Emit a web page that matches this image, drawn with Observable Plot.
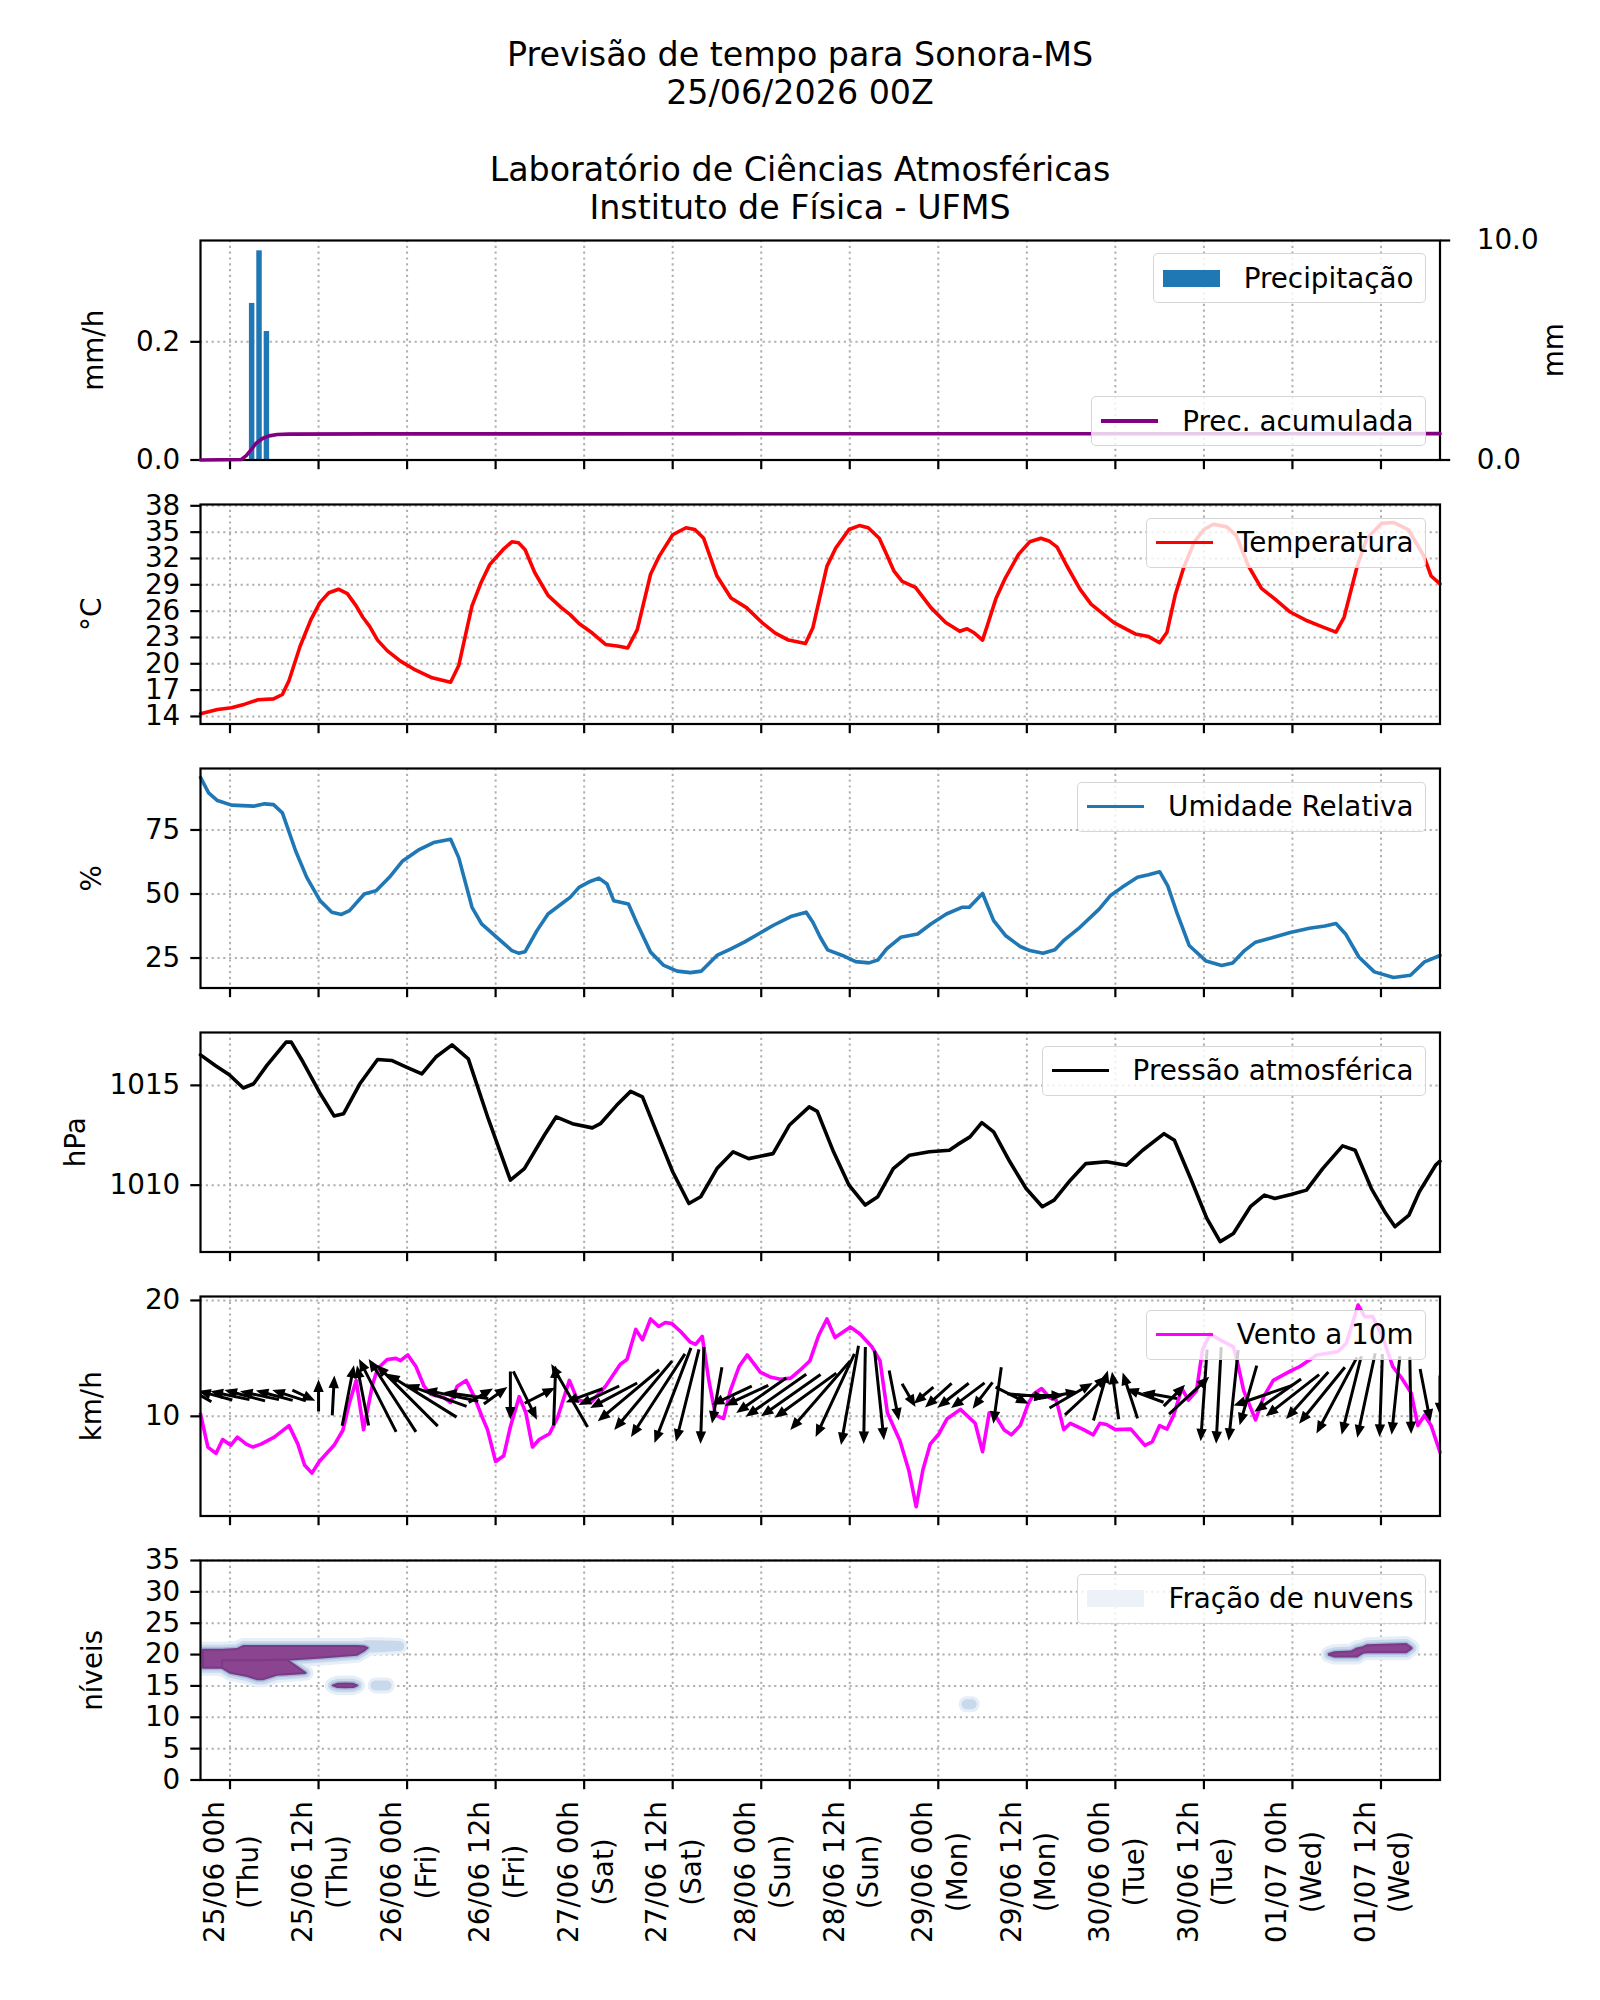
<!DOCTYPE html>
<html>
<head>
<meta charset="utf-8">
<script src="https://cdn.jsdelivr.net/npm/d3@7"></script>
<script src="https://cdn.jsdelivr.net/npm/@observablehq/plot@0.6"></script>
<style>
  body { margin: 0; background: #fff; }
  #fig { position: relative; width: 1600px; height: 2000px; background: #fff; overflow: hidden;
         font-family: "DejaVu Sans", sans-serif; color: #000; }
  #titulo { position: absolute; left: 0; top: 36px; width: 1600px; text-align: center;
            font-size: 33.3px; line-height: 38.3px; white-space: pre; }
  .painel { position: absolute; left: 0; max-width: none; }
  .leg { position: absolute; right: 174.5px; height: 50px; box-sizing: border-box;
         border: 1.6px solid rgba(204,204,204,0.8); background: rgba(255,255,255,0.8);
         border-radius: 5px; display: flex; align-items: center; padding: 0 11px 0 9px;
         font-size: 27.8px; white-space: nowrap; }
  .leg .amostra { width: 57px; margin-right: 24px; }
</style>
</head>
<body>
<div id="fig"><div id="titulo"></div></div>
<script>
// Eixo de tempo: horas a partir de 25/06 00h (hora local)
const dominioHoras = [-4, 164];
const horasTicks = [0, 12, 24, 36, 48, 60, 72, 84, 96, 108, 120, 132, 144, 156];
const rotulosTicks = [
  "25/06 00h\n(Thu)", "25/06 12h\n(Thu)", "26/06 00h\n(Fri)", "26/06 12h\n(Fri)",
  "27/06 00h\n(Sat)", "27/06 12h\n(Sat)", "28/06 00h\n(Sun)", "28/06 12h\n(Sun)",
  "29/06 00h\n(Mon)", "29/06 12h\n(Mon)", "30/06 00h\n(Tue)", "30/06 12h\n(Tue)",
  "01/07 00h\n(Wed)", "01/07 12h\n(Wed)"
];

// Precipitação horária [hora, mm/h]
const precipitacao = [[3, 0.265], [4, 0.354], [5, 0.2175]];

// Precipitação acumulada [hora, mm]
const precAcumulada = [
  [-4, 0], [1.5, 0.02], [2.2, 0.2], [2.9, 0.48], [3.5, 0.75], [4.4, 0.98], [5.3, 1.1],
  [6.4, 1.16], [8, 1.18], [20, 1.19], [164, 1.2]
];

// Temperatura [hora, °C]
const temperatura = [
  [-4, 14.3], [-1.7, 14.8], [0.2, 15.0], [2.0, 15.4], [3.8, 15.9], [5.9, 16.0], [7.1, 16.5],
  [8.0, 18.1], [9.5, 22.0], [11.0, 25.1], [12.2, 27.0], [13.4, 28.1], [14.7, 28.5], [15.9, 28.0],
  [17.1, 26.6], [18.0, 25.3], [18.9, 24.3], [20.0, 22.7], [21.3, 21.5], [23.1, 20.3], [24.9, 19.4],
  [27.4, 18.4], [29.9, 17.9], [31.0, 19.8], [31.9, 23.2], [32.8, 26.6], [34.0, 29.2], [35.2, 31.3],
  [37.0, 33.0], [38.2, 33.9], [39.1, 33.8], [40.0, 33.0], [41.3, 30.4], [43.1, 27.8], [44.9, 26.4],
  [46.1, 25.6], [47.3, 24.6], [49.1, 23.5], [50.9, 22.2], [52.7, 22.0], [53.9, 21.8], [55.2, 23.9],
  [57.0, 30.2], [58.2, 32.3], [60.0, 34.7], [61.8, 35.5], [63.0, 35.3], [64.2, 34.3], [66.0, 30.0],
  [67.9, 27.5], [70.0, 26.4], [72.1, 24.7], [73.9, 23.5], [75.7, 22.7], [78.0, 22.3], [79.0, 24.1],
  [80.9, 31.1], [82.1, 33.2], [83.9, 35.3], [85.3, 35.75], [86.5, 35.5], [88.0, 34.3], [89.0, 32.45],
  [90.0, 30.55], [91.1, 29.4], [92.9, 28.7], [95.0, 26.4], [97.0, 24.7], [98.9, 23.7], [99.9, 24.0],
  [100.9, 23.5], [102.0, 22.7], [102.7, 24.5], [103.8, 27.4], [105.1, 29.8], [106.9, 32.5],
  [108.4, 33.9], [109.9, 34.3], [111.0, 34.0], [112.1, 33.3], [113.4, 31.2], [115.2, 28.5],
  [116.7, 26.8], [119.8, 24.7], [122.7, 23.4], [124.5, 23.1], [126.0, 22.4], [127.0, 23.6],
  [128.1, 27.8], [129.2, 30.8], [130.7, 33.9], [132.0, 35.3], [133.3, 35.9], [135.1, 35.6],
  [136.4, 34.6], [138.0, 31.2], [139.8, 28.6], [141.6, 27.4], [143.7, 25.9], [146.0, 24.9],
  [147.8, 24.3], [149.9, 23.6], [151.0, 25.3], [152.8, 31.2], [154.1, 34.3], [156.1, 36.0],
  [157.7, 36.1], [159.7, 35.3], [161.8, 32.3], [162.8, 30.0], [164.0, 29.1]
];

// Umidade relativa [hora, %]
const umidade = [
  [-4, 95.5], [-2.9, 89.5], [-1.7, 86.5], [0.2, 84.7], [3.2, 84.3], [4.7, 85.2], [5.9, 84.9],
  [7.1, 81.7], [8.9, 66.8], [10.4, 56.5], [12.2, 47.4], [13.8, 42.9], [15.1, 42.0], [16.2, 43.5],
  [18.2, 50.0], [19.8, 51.3], [21.6, 56.5], [23.4, 62.9], [25.5, 67.1], [27.6, 70.1], [29.9, 71.4],
  [31.0, 64.2], [32.8, 44.8], [34.1, 38.3], [36.4, 32.5], [38.2, 27.9], [39.1, 26.9], [40.0, 27.5],
  [41.6, 35.7], [43.1, 42.2], [44.9, 46.1], [46.1, 48.7], [47.3, 52.6], [48.8, 54.9], [50.0, 56.2],
  [51.1, 53.9], [52.0, 47.4], [54.0, 46.1], [55.2, 38.3], [57.0, 27.3], [58.8, 22.1], [60.6, 19.9],
  [62.4, 19.3], [63.9, 19.9], [66.0, 26.0], [67.9, 28.6], [69.7, 31.2], [71.5, 34.2], [73.6, 37.7],
  [76.0, 41.2], [78.1, 42.9], [79.0, 39.0], [80.0, 33.1], [81.0, 28.2], [83.0, 26.0], [84.8, 23.6],
  [86.6, 23.1], [87.8, 24.2], [89.0, 28.6], [90.9, 33.1], [93.2, 34.4], [95.0, 38.3], [97.1, 42.2],
  [99.2, 44.8], [100.2, 44.8], [102.0, 50.2], [103.5, 39.6], [105.1, 33.8], [107.1, 29.5],
  [108.4, 27.9], [110.2, 26.9], [111.8, 28.2], [113.1, 32.1], [115.2, 37.0], [117.8, 44.1],
  [119.3, 49.3], [120.9, 52.6], [123.0, 56.5], [124.5, 57.5], [126.0, 58.7], [127.1, 53.2],
  [128.4, 42.2], [130.0, 29.9], [132.3, 23.8], [134.4, 22.1], [135.9, 23.1], [137.5, 27.9],
  [139.0, 31.2], [141.1, 32.8], [143.7, 35.0], [146.3, 36.6], [148.4, 37.5], [149.9, 38.5],
  [151.2, 34.4], [153.0, 25.4], [155.1, 19.6], [157.7, 17.4], [160.0, 18.3], [161.9, 23.5],
  [164.0, 26.0]
];

// Pressão atmosférica [hora, hPa]
const pressao = [
  [-4, 1016.53], [-2.0, 1016.0], [-0.1, 1015.53], [1.8, 1014.87], [3.2, 1015.08], [5.0, 1016.0],
  [7.6, 1017.17], [8.3, 1017.17], [9.9, 1016.17], [12.1, 1014.67], [14.1, 1013.47], [15.4, 1013.58],
  [17.6, 1015.08], [20.0, 1016.3], [21.9, 1016.25], [23.9, 1015.92], [26.0, 1015.58], [27.9, 1016.42],
  [30.1, 1017.03], [32.3, 1016.33], [35.0, 1013.33], [38.0, 1010.25], [39.9, 1010.83], [42.6, 1012.5],
  [44.2, 1013.42], [46.4, 1013.08], [49.1, 1012.87], [50.2, 1013.08], [52.4, 1014.0], [54.3, 1014.7],
  [55.9, 1014.42], [57.8, 1012.67], [60.0, 1010.67], [62.2, 1009.08], [63.8, 1009.42], [66.0, 1010.83],
  [68.2, 1011.67], [70.3, 1011.33], [73.6, 1011.58], [75.8, 1013.0], [78.5, 1013.92], [79.6, 1013.7],
  [81.8, 1011.67], [83.9, 1010.0], [86.1, 1009.0], [87.8, 1009.42], [89.9, 1010.83], [92.1, 1011.5],
  [94.8, 1011.67], [97.5, 1011.75], [98.6, 1012.03], [100.3, 1012.42], [101.9, 1013.13],
  [103.5, 1012.67], [105.7, 1011.17], [107.9, 1009.83], [110.1, 1008.92], [111.7, 1009.25],
  [113.9, 1010.25], [116.0, 1011.08], [118.8, 1011.17], [121.5, 1011.0], [123.7, 1011.75],
  [126.6, 1012.58], [128.0, 1012.25], [130.2, 1010.33], [132.4, 1008.33], [134.2, 1007.17],
  [136.0, 1007.58], [138.3, 1008.92], [140.2, 1009.5], [141.6, 1009.33], [143.8, 1009.53],
  [145.9, 1009.75], [148.1, 1010.83], [150.8, 1011.97], [152.5, 1011.75], [154.7, 1009.83],
  [156.5, 1008.67], [157.9, 1007.92], [159.8, 1008.5], [161.2, 1009.67], [163.4, 1011.0], [164, 1011.2]
];

// Velocidade do vento a 10 m [hora, km/h]
const vento = [
  [-4, 10.2], [-3.0, 7.35], [-1.9, 6.8], [-1.0, 8.0], [0.1, 7.5], [1.0, 8.2], [2.2, 7.6], [3.1, 7.35],
  [4.2, 7.6], [6.0, 8.2], [8.0, 9.2], [9.2, 7.6], [10.1, 5.8], [11.1, 5.1], [12.1, 6.1], [14.1, 7.5],
  [15.3, 8.8], [16.2, 11.2], [17.1, 13.1], [18.1, 8.85], [19.3, 12.7], [20.0, 14.1], [21.3, 14.9],
  [22.5, 15.0], [23.1, 14.8], [24.1, 15.3], [25.2, 14.3], [26.3, 12.6], [27.2, 11.9], [29.0, 11.6],
  [29.9, 11.2], [30.8, 12.6], [32.0, 13.1], [33.1, 11.7], [34.2, 9.9], [34.9, 8.85], [36.0, 6.1],
  [37.1, 6.6], [38.0, 9.1], [39.2, 11.7], [40.1, 10.3], [41.0, 7.35], [41.9, 8.0], [43.3, 8.5],
  [44.4, 9.9], [46.0, 13.1], [47.1, 11.4], [48.9, 11.2], [50.9, 12.6], [52.9, 14.5], [53.8, 14.9],
  [55.0, 17.5], [55.9, 16.6], [57.0, 18.4], [58.1, 17.75], [59.0, 18.1], [59.9, 18.0], [61.1, 17.3],
  [62.4, 16.4], [63.1, 16.2], [64.0, 16.9], [64.9, 13.1], [65.8, 10.1], [66.9, 9.8], [67.8, 12.2],
  [69.0, 14.3], [70.1, 15.3], [71.9, 13.8], [73.2, 13.4], [74.6, 13.2], [76.0, 13.3], [77.3, 14.0],
  [78.6, 14.8], [79.8, 17.0], [80.9, 18.4], [82.0, 16.8], [84.1, 17.7], [85.4, 17.1], [87.0, 16.0],
  [88.1, 14.8], [89.1, 10.3], [90.8, 7.9], [92.0, 5.35], [93.0, 2.2], [93.9, 5.35], [94.9, 7.6],
  [96.1, 8.5], [97.2, 9.8], [99.0, 10.6], [101.0, 9.4], [102.0, 6.95], [102.9, 10.3], [103.9, 9.9],
  [104.9, 8.85], [105.9, 8.4], [107.1, 9.2], [108.2, 11.1], [108.9, 11.9], [110.0, 12.4],
  [111.1, 11.6], [112.0, 11.4], [113.0, 8.85], [113.9, 9.4], [115.7, 8.85], [117.0, 8.4],
  [117.9, 9.4], [118.8, 9.3], [120.0, 8.85], [122.1, 8.9], [124.0, 7.5], [125.0, 7.8], [126.0, 9.2],
  [127.0, 8.9], [127.9, 10.1], [129.0, 12.4], [129.9, 11.4], [131.0, 12.2], [131.8, 15.7],
  [132.8, 17.1], [134.2, 16.6], [136.0, 16.0], [136.5, 14.8], [137.4, 12.2], [139.0, 9.7],
  [140.1, 11.7], [141.4, 13.1], [143.7, 13.9], [145.0, 14.3], [147.3, 15.3], [150.2, 15.6],
  [151.3, 16.3], [152.9, 19.6], [153.8, 18.6], [154.9, 18.6], [156.3, 16.7], [157.6, 14.3],
  [158.8, 13.3], [160.1, 12.0], [161.0, 9.2], [161.9, 10.1], [162.8, 9.2], [164.0, 6.9]
];

// Setas de vento [hora, direção (graus, horário a partir do norte), intensidade km/h]
const setas = [
  [-4, -60, 4.5], [-2, -75, 6.3], [0, -78, 7.1], [2, -75, 7.5], [4, -78, 7.1], [6, -75, 6.8],
  [8, -72, 6.3], [10, 115, 4.5], [12, 0, 5.7], [14, 3, 7.1], [16, 11, 11.0], [18, -11, 10.9],
  [20, -27, 14.6], [22, -33, 15.5], [24, -45, 15.5], [26, -58, 14.6], [28, -70, 11.4], [30, -78, 9.8],
  [32, -82, 8.0], [34, 60, 5.0], [36, 54, 5.2], [38, 180, 8.6], [40, 154, 9.6], [42, 63, 6.1],
  [44, 2, 10.7], [46, -30, 13.0], [48, -110, 7.0], [50, -115, 8.0], [52, -118, 9.5], [54, -130, 14.3],
  [56, -140, 16.1], [58, -147, 17.7], [60, -159, 18.2], [62, -166, 17.0], [64, -178, 17.3],
  [66, -170, 10.2], [68, -115, 7.9], [70, -115, 8.6], [72, -125, 10.9], [74, -125, 13.2],
  [76, -125, 13.0], [78, -126, 13.6], [80, -139, 16.3], [82, -155, 16.4], [84, -170, 18.0],
  [86, -179, 17.3], [88, 174, 16.1], [90, 169, 9.1], [92, 150, 4.8], [94, -130, 4.6], [96, -132, 6.4],
  [98, -128, 7.1], [100, -127, 7.5], [102, -143, 5.9], [104, -172, 10.2], [106, 117, 6.6],
  [108, 95, 7.1], [110, 90, 8.0], [112, 80, 8.0], [114, 60, 8.9], [116, 47, 10.2], [118, 16, 9.3],
  [120, -8, 8.6], [122, -18, 8.6], [124, -70, 7.1], [126, -80, 6.3], [128, 45, 5.4], [130, 47, 9.8],
  [132, -176, 16.4], [134, -177, 17.3], [136, -174, 16.3], [138, -164, 11.1], [140, -109, 11.1],
  [142, -125, 10.2], [144, -128, 12.1], [146, -138, 11.3], [148, -141, 13.0], [150, -152, 15.4],
  [152, -166, 14.5], [154, -168, 15.4], [156, -178, 14.8], [158, -174, 14.1], [160, 179, 13.8],
  [162, 169, 9.6], [164, 180, 7.1]
];
const nivelSetas = 11.8; // linha de referência (km/h) onde as setas são centradas

// Camadas de nuvens [hora, nível da base, nível do topo]
const nuvemSuperior = [
  [-3.6, 17.8, 20.7], [-1.0, 17.8, 20.7], [1.0, 18.2, 20.8], [1.9, 18.3, 21.3], [7.8, 19.1, 21.3],
  [12.0, 19.4, 21.3], [17.3, 19.9, 21.3], [18.3, 20.6, 21.2], [18.7, 21.0, 21.0]
];
const nuvemInferior = [
  [-1.0, 17.8, 19.0], [0.1, 17.0, 19.0], [2.4, 16.5, 19.0], [3.7, 16.0, 19.0], [4.6, 16.0, 19.0],
  [6.4, 16.7, 19.1], [7.8, 16.8, 19.1], [10.3, 17.0, 17.0]
];
const nuvemNivel15 = [[14.0, 15.0, 15.0], [14.6, 14.75, 15.25], [15.7, 14.7, 15.3], [16.8, 14.75, 15.25], [17.3, 15.0, 15.0]];
const nuvemDireita = [
  [149.0, 19.9, 20.0], [149.8, 19.6, 20.3], [152.0, 19.6, 20.4], [152.8, 19.6, 20.9], [153.6, 20.2, 21.1],
  [154.2, 20.3, 21.4], [159.5, 20.3, 21.6], [160.2, 20.9, 21.0]
];
const nuvemCauda = [[18.5, 21.0, 21.4], [20.0, 21.1, 21.4], [23.0, 21.3, 21.3]];
const nuvemTenue15 = [[19.8, 15.0, 15.0], [21.3, 15.0, 15.0]];
const nuvemPonto = [[99.9, 12.0, 12.0], [100.6, 12.0, 12.0]];

// ---------------------------------------------------------------------------
const fig = document.getElementById("fig");
document.getElementById("titulo").textContent =
  "Previsão de tempo para Sonora-MS\n25/06/2026 00Z\n\nLaboratório de Ciências Atmosféricas\nInstituto de Física - UFMS";

const W = 1600, ML = 200, MR = 160.5, H = 219.5, MT = 12, MB = 14, FS = 27.8, LW = 3.6;
const estilo = {fontFamily: "DejaVu Sans", fontSize: FS + "px", background: "transparent", color: "black", overflow: "visible"};
const grade = {stroke: "#b0b0b0", strokeOpacity: 1, strokeWidth: 2, strokeDasharray: "2.2,3.6"};
const hx = d => d[0], v1 = d => d[1], v2 = d => d[2];

function colocar(svg, topo) {
  svg.classList.add("painel");
  svg.style.top = (topo - MT) + "px";
  fig.appendChild(svg);
}

function painel({topo, dominioY, ticksY, formatoY = d => String(d), rotuloY, xRotulo, marcas, mb = MB, extras = [], opcoes = {}}) {
  const svg = Plot.plot({
    width: W, height: H + MT + mb,
    marginLeft: ML, marginRight: MR, marginTop: MT, marginBottom: mb,
    style: estilo,
    x: {domain: dominioHoras},
    y: {domain: dominioY},
    ...opcoes,
    marks: [
      Plot.gridX(horasTicks, grade),
      Plot.gridY(ticksY, grade),
      ...marcas,
      Plot.axisX(horasTicks, {tickSize: 9.7, strokeWidth: 2.2, tickFormat: () => "", label: null}),
      Plot.axisY(ticksY, {tickSize: 9.7, tickPadding: 10.5, strokeWidth: 2.2, tickFormat: formatoY, label: null}),
      Plot.frame({stroke: "black", strokeWidth: 2.2}),
      Plot.text([rotuloY], {text: d => d, frameAnchor: "left", dx: xRotulo - ML, rotate: -90,
        textAnchor: "middle", lineAnchor: "middle", fontSize: FS, fill: "black"}),
      ...extras
    ]
  });
  colocar(svg, topo);
}

const topos = [240, 504, 768, 1032, 1296, 1560];

// 1. Precipitação
painel({
  topo: topos[0], dominioY: [0, 0.3715], ticksY: [0, 0.2], formatoY: d => d.toFixed(1),
  rotuloY: "mm/h", xRotulo: 93.8,
  marcas: [
    Plot.rectY(precipitacao, {x1: d => d[0] - 0.37, x2: d => d[0] + 0.37, y: v1, fill: "#1f77b4"})
  ]
});
// eixo secundário: precipitação acumulada
colocar(Plot.plot({
  width: W, height: H + MT + MB, marginLeft: ML, marginRight: MR, marginTop: MT, marginBottom: MB,
  style: estilo,
  x: {domain: dominioHoras, axis: null},
  y: {domain: [0, 10]},
  marks: [
    Plot.line(precAcumulada, {x: hx, y: v1, stroke: "purple", strokeWidth: LW}),
    Plot.axisY([0, 10], {anchor: "right", tickSize: 9.7, tickPadding: 27, strokeWidth: 2.2, tickFormat: d => d.toFixed(1), label: null}),
    Plot.text(["mm"], {text: d => d, frameAnchor: "right", dx: 1554 - (W - MR), rotate: -90,
      textAnchor: "middle", lineAnchor: "middle", fontSize: FS, fill: "black"})
  ]
}), topos[0]);

// 2. Temperatura
painel({
  topo: topos[1], dominioY: [13.14, 38.15], ticksY: [14, 17, 20, 23, 26, 29, 32, 35, 38],
  rotuloY: "°C", xRotulo: 91.2,
  marcas: [Plot.line(temperatura, {x: hx, y: v1, stroke: "red", strokeWidth: LW})]
});

// 3. Umidade relativa
painel({
  topo: topos[2], dominioY: [13.3, 99.0], ticksY: [25, 50, 75],
  rotuloY: "%", xRotulo: 91.9,
  marcas: [Plot.line(umidade, {x: hx, y: v1, stroke: "#1f77b4", strokeWidth: LW})]
});

// 4. Pressão
painel({
  topo: topos[3], dominioY: [1006.65, 1017.65], ticksY: [1010, 1015],
  rotuloY: "hPa", xRotulo: 75.9,
  marcas: [Plot.line(pressao, {x: hx, y: v1, stroke: "black", strokeWidth: LW})]
});

// 5. Vento
const formaPersonalizada = typeof Plot.spike === "function";
const setaQuiver = {
  draw(ctx, l) {
    const w = 1.5, hw = 5.2, hl = Math.min(12.5, l * 0.6);
    ctx.moveTo(-w, 0);
    ctx.lineTo(-w, -l + hl);
    ctx.lineTo(-hw, -l + hl);
    ctx.lineTo(0, -l);
    ctx.lineTo(hw, -l + hl);
    ctx.lineTo(w, -l + hl);
    ctx.lineTo(w, 0);
    ctx.closePath();
  }
};
painel({
  topo: topos[4], dominioY: [1.4, 20.34], ticksY: [10, 20],
  rotuloY: "km/h", xRotulo: 91.9,
  opcoes: {length: {type: "linear", domain: [0, 20], range: [0, 112]}},
  marcas: [
    Plot.line(vento, {x: hx, y: v1, stroke: "#ff00ff", strokeWidth: LW}),
    Plot.vector(setas, {
      x: hx, y: () => nivelSetas, rotate: v1, length: v2, anchor: "middle", clip: true,
      ...(formaPersonalizada ? {shape: setaQuiver, fill: "black", stroke: "none"} : {stroke: "black", strokeWidth: 3, r: 5})
    })
  ]
});

// 6. Fração de nuvens
const camadas = [nuvemSuperior, nuvemInferior, nuvemNivel15, nuvemDireita];
const tenues = [nuvemCauda, nuvemTenue15, nuvemPonto];
const halos = [["#e6eef7", 16], ["#c9d9ec", 10], ["#a3bad9", 5]];
const area = (dados, cor, largura) => Plot.areaY(dados, {
  x: hx, y1: v1, y2: v2, fill: cor, stroke: cor, strokeWidth: largura, strokeLinejoin: "round", clip: true
});
painel({
  topo: topos[5], dominioY: [0, 35], ticksY: [0, 5, 10, 15, 20, 25, 30, 35],
  rotuloY: "níveis", xRotulo: 93, mb: 200,
  marcas: [
    ...halos.flatMap(([cor, larg], k) => [...camadas, ...(k < 2 ? tenues : [])].map(c => area(c, cor, larg))),
    ...camadas.map(c => Plot.areaY(c, {x: hx, y1: v1, y2: v2, fill: "#8a4490", stroke: "#7b3a88",
      strokeWidth: 2, strokeLinejoin: "round", clip: true}))
  ],
  extras: [
    Plot.text(horasTicks, {x: d => d, text: (d, i) => rotulosTicks[i], frameAnchor: "bottom", dy: 92,
      rotate: -90, textAnchor: "middle", lineAnchor: "middle", lineHeight: 1.25, fontSize: FS, fill: "black"})
  ]
});

// Legendas
function legenda(topo, amostra, texto) {
  const d = document.createElement("div");
  d.className = "leg";
  d.style.top = topo + "px";
  const a = document.createElement("div");
  a.className = "amostra";
  Object.assign(a.style, amostra);
  d.appendChild(a);
  d.appendChild(document.createTextNode(texto));
  fig.appendChild(d);
}
const linha = cor => ({height: "3.6px", background: cor});
legenda(topos[0] + 13, {height: "17px", background: "#1f77b4"}, "Precipitação");
legenda(topos[0] + H - 13.5 - 50, linha("purple"), "Prec. acumulada");
legenda(topos[1] + 13.5, linha("red"), "Temperatura");
legenda(topos[2] + 13.5, linha("#1f77b4"), "Umidade Relativa");
legenda(topos[3] + 13.5, linha("black"), "Pressão atmosférica");
legenda(topos[4] + 13.5, linha("#ff00ff"), "Vento a 10m");
legenda(topos[5] + 13.5, {height: "17px", background: "#edf2f8"}, "Fração de nuvens");
</script>
</body>
</html>
